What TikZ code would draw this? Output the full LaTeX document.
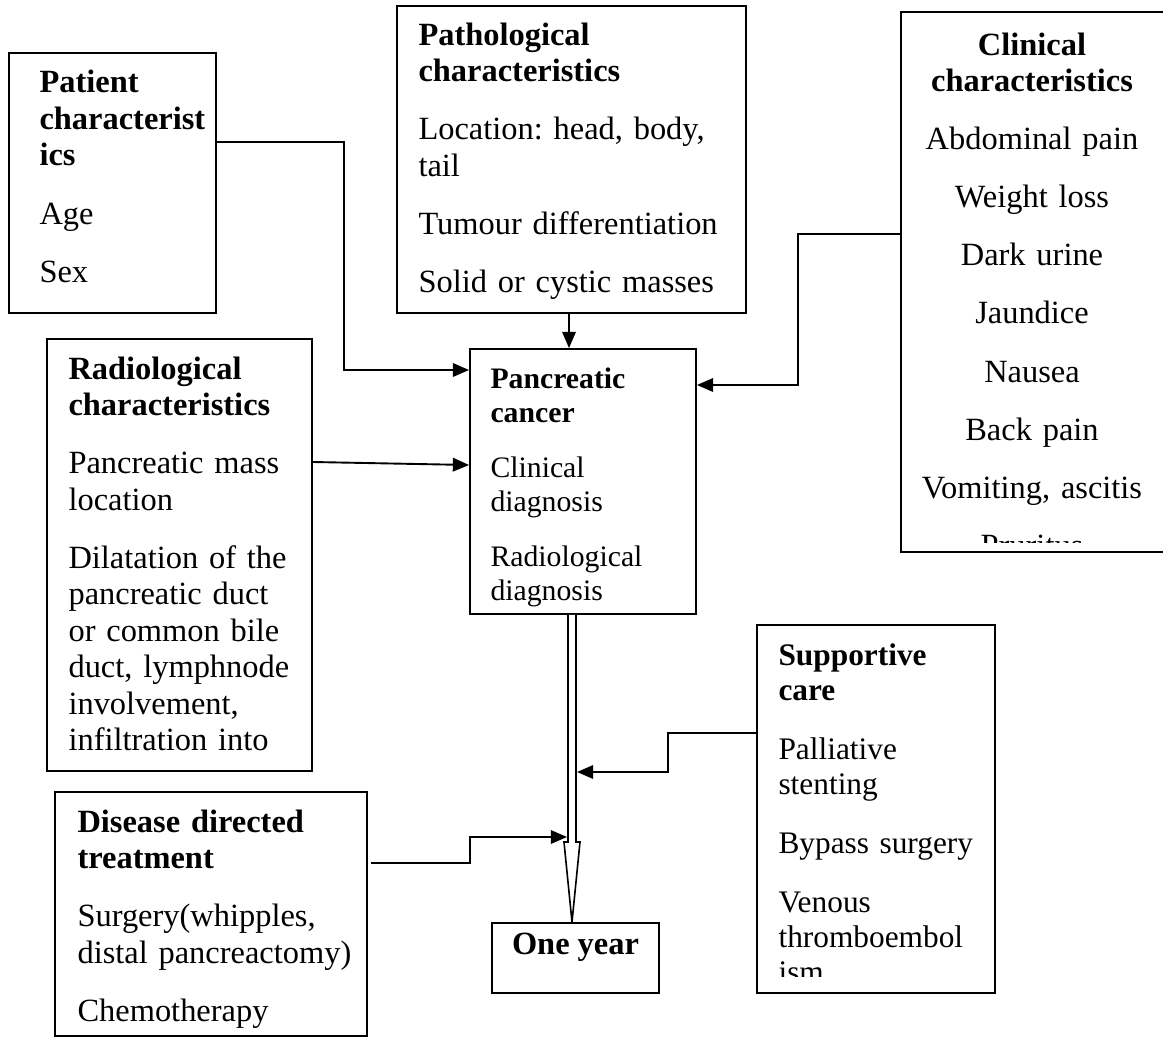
\documentclass[tikz,border=0pt]{standalone}
\usepackage{fontspec}
\setmainfont{Liberation Serif}
\usetikzlibrary{arrows.meta,positioning,fit,calc}
\frenchspacing

\begin{document}
\begin{tikzpicture}[x=0.37pt, y=-0.37pt, >={Triangle[length=6pt,width=5pt]},
  box/.style={draw, line width=0.7pt, inner sep=0pt},
  txt/.style={anchor=base west, align=left, inner sep=0pt, text width=125pt, font=\fontsize{12}{13.5}\selectfont},
  ctxt/.style={txt, anchor=base, align=center, text width=90pt},
  arr/.style={->, line width=0.7pt},
  hollow/.style={draw, line width=0.6pt, fill=white}]
  \useasboundingbox (0,0) rectangle (1163,1038);
  % boxes
  \node[box, fit={(9,53) (216,313)}] (patient) {};
  \node[box, fit={(397,6) (746,313)}] (patho) {};
  \node[box, draw=none, fit={(902,13) (1163,551)}] (clin) {};
  \draw[line width=0.7pt] (clin.north east) -| (clin.south west) -- (clin.south east);
  \node[box, fit={(47,339) (312,771)}] (radio) {};
  \node[box, fit={(470,349) (696,614)}] (pancan) {};
  \node[box, fit={(757,625) (995,993)}] (support) {};
  \node[box, fit={(55,792) (367,1036)}] (disease) {};
  \node[box, fit={(492,923) (659,993)}, font=\fontsize{12}{13.5}\selectfont\bfseries] (oneyear) {One year};
  % texts
  \node[txt] (patientT) at (39,93) {\textbf{Patient\\characterist\\ics}\\[8pt]Age\\[8pt]Sex};
  \node[txt] (pathoT) at (418,45) {\textbf{Pathological\\characteristics}\\[8pt]Location: head, body,\\tail\\[8pt]Tumour differentiation\\[8pt]Solid or cystic masses};
  \begin{scope}
    \clip (clin.north west) rectangle (1150,542);
    \node[ctxt] (clinT) at (1032,55) {\textbf{Clinical\\characteristics}\\[8pt]Abdominal pain\\[8pt]Weight loss\\[8pt]Dark urine\\[8pt]Jaundice\\[8pt]Nausea\\[8pt]Back pain\\[8pt]Vomiting, ascitis\\[8pt]Pruritus};
  \end{scope}
  \node[txt] (radioT) at (68,379) {\textbf{Radiological\\characteristics}\\[8pt]Pancreatic mass\\location\\[8pt]Dilatation of the\\pancreatic duct\\or common bile\\duct, lymphnode\\involvement,\\infiltration into};
  \node[txt, font=\fontsize{11}{12.6}\selectfont] (pancanT) at (490,388) {\textbf{Pancreatic\\cancer}\\[7.8pt]Clinical\\diagnosis\\[7.8pt]Radiological\\diagnosis};
  \begin{scope}
    \clip (support.north west) rectangle (support.east |- 0,976);
    \node[txt, font=\fontsize{11.6}{12.95}\selectfont] (supportT) at (778,665) {\textbf{Supportive\\care}\\[8.9pt]Palliative\\stenting\\[8.9pt]Bypass surgery\\[8.9pt]Venous\\thromboembol\\ism};
  \end{scope}
  \node[txt] (diseaseT) at (77,832) {\textbf{Disease directed\\treatment}\\[8pt]Surgery(whipples,\\distal pancreactomy)\\[8pt]Chemotherapy};
  % connectors
  \draw[arr] (patient.east |- 0,142) -- ++(127,0) |- (pancan.west |- 0,370);
  \draw[arr] (radio.east |- 0,462) -- (pancan.west |- 0,465);
  \draw[arr] (patho.south -| 569,0) -- (pancan.north -| 569,0);
  \draw[arr] (clin.west |- 0,234) -- ++(-103,0) |- (pancan.east |- 0,385);
  \draw[hollow] (pancan.south -| 568,0) -- (568,842) -- (564,842) -- (oneyear.north -| 572,0) -- (580,842) -- (576,842) -- (pancan.south -| 576,0);
  \coordinate (stemR) at (577,772);
  \coordinate (stemL) at (567,837);
  \draw[arr] (support.west |- 0,733) -- ++(-88,0) |- (stemR);
  \draw[arr, shorten <=1pt] (disease.east |- 0,863) -- ++(102,0) |- (stemL);
\end{tikzpicture}
\end{document}
